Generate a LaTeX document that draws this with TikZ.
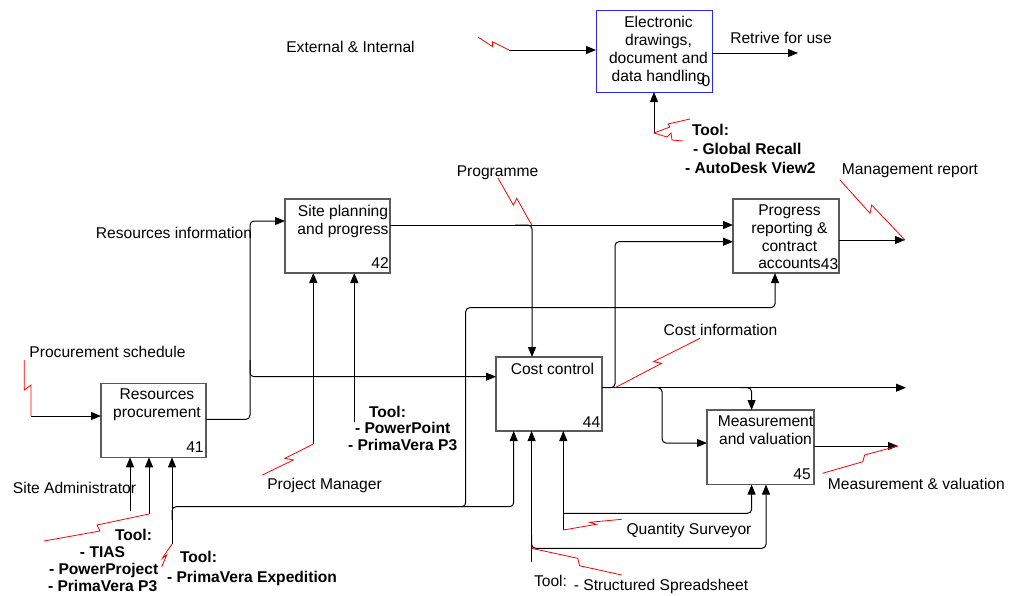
\documentclass[tikz,border=0pt]{standalone}
\usepackage{fontspec}
\setmainfont{Liberation Sans}
\usetikzlibrary{arrows.meta}
\definecolor{boxgray}{RGB}{90,90,90}
\definecolor{boxblue}{RGB}{40,40,255}
\definecolor{boltred}{RGB}{255,0,0}
\begin{document}
\begin{tikzpicture}[x=1pt,y=-1pt,
  every node/.style={inner sep=0pt, outer sep=0pt, font=\fontsize{15.6}{18}\selectfont},
  box/.style={draw=boxgray, line width=1.3pt},
  conn/.style={draw=black, line width=1pt, -{Triangle[length=10pt,width=8pt]}},
  bolt/.style={draw=boltred, line width=0.8pt},
  tool/.style={align=left, anchor=north west},
  boxtext/.style={align=center, anchor=north},
  lbl/.style={anchor=base},
  rc/.style={rounded corners=4pt}
]
\useasboundingbox (0,0) rectangle (1009,595);

% ---------- activity boxes ----------
\node[box, draw=boxblue, line width=1pt, minimum width=116pt, minimum height=82pt] (b0) at (654,51) {};
\node[boxtext, font=\fontsize{15.6}{18.2}\selectfont] (t0) at (658.5,15.7) {Electronic\\drawings,\\document and\\data handling};
\node[lbl] (n0) at (706,86.6) {0};

\node[box, minimum width=105pt, minimum height=74pt] (b42) at (337.5,236) {};
\node[boxtext] (t42) at (343,205) {Site planning\\and progress};
\node[lbl] (n42) at (380,268.6) {42};

\node[box, minimum width=105pt, minimum height=74pt] (b41) at (153.5,420.3) {};
\node[boxtext] (t41) at (157,389) {Resources\\procurement};
\node[lbl] (n41) at (195,452.6) {41};

\node[box, minimum width=106pt, minimum height=74pt] (b44) at (549,394) {};
\node[lbl] (t44) at (552.4,374.6) {Cost control};
\node[lbl] (n44) at (591.5,427.3) {44};

\node[box, minimum width=106pt, minimum height=74pt] (b43) at (786,236) {};
\node[boxtext, font=\fontsize{15.6}{17.7}\selectfont] (t43) at (789.5,205) {Progress\\reporting \&\\contract\\accounts};
\node[lbl] (n43) at (829.5,269.6) {43};

\node[box, minimum width=107pt, minimum height=74.5pt] (b45) at (760.5,447.3) {};
\node[boxtext] (t45) at (765.5,416) {Measurement\\and valuation};
\node[lbl] (n45) at (802,479.3) {45};

% ---------- labels ----------
\node[lbl] (lExt) at (350.5,52) {External \& Internal};
\node[lbl] (lRet) at (781,43.6) {Retrive for use};
\node[lbl] (lProg) at (497.5,176.6) {Programme};
\node[lbl] (lMgmt) at (910,174.6) {Management report};
\node[lbl] (lRes) at (174,238.6) {Resources information};
\node[lbl] (lPS) at (107.5,357.6) {Procurement schedule};
\node[lbl] (lCI) at (720.5,335.6) {Cost information};
\node[lbl] (lSA) at (74.5,493.6) {Site Administrator};
\node[lbl] (lPM) at (324.5,489.6) {Project Manager};
\node[lbl] (lQS) at (689,534.6) {Quantity Surveyor};
\node[lbl] (lMV) at (916.4,489.6) {Measurement \& valuation};
\node[lbl] (lTool) at (550.5,586) {Tool:};
\node[lbl] (lSS) at (661,590.6) {- Structured Spreadsheet};

\node[tool, font=\fontsize{15.6}{19}\selectfont\bfseries] (tool0) at (685,124)
  {\hspace*{7pt}Tool:\\\hspace*{8pt}- Global Recall\\- AutoDesk View2};
\node[tool, font=\fontsize{15.6}{17}\selectfont\bfseries] (tool41) at (48,529)
  {\hspace*{67pt}Tool:\\\hspace*{32pt}- TIAS\\\hspace*{1pt}- PowerProject\\- PrimaVera P3};
\node[tool, font=\fontsize{15.6}{16.5}\selectfont\bfseries] (tool42) at (348,406)
  {\hspace*{21pt}Tool:\\\hspace*{7pt}- PowerPoint\\- PrimaVera P3};
\node[tool, font=\fontsize{15.6}{20}\selectfont\bfseries] (toolX) at (167,551)
  {\hspace*{13pt}Tool:\\- PrimaVera Expedition};

% ---------- free ends and junctions ----------
\coordinate (ei) at (509,50);
\coordinate (rf) at (798,53);
\coordinate (gr) at (654,133);
\coordinate (ps) at (31,416);
\coordinate (sa) at (130,511);
\coordinate (tt) at (149,514);
\coordinate (e172) at (172,544);
\coordinate (e172b) at (172,520);
\coordinate (e513) at (513.7,506.7);
\coordinate (e440) at (440,506.7);
\coordinate (e465) at (465.7,307.7);
\coordinate (r250) at (250,221);
\coordinate (c250) at (250,360);
\coordinate (pm) at (313.3,444);
\coordinate (pp) at (354.3,421.7);
\coordinate (p515) at (515,225);
\coordinate (pg) at (531.7,225);
\coordinate (out44) at (906,387.7);
\coordinate (q605) at (605,387.7);
\coordinate (q615) at (615,241.7);
\coordinate (q615b) at (615,387.7);
\coordinate (q650) at (650,387.7);
\coordinate (q662) at (662,443);
\coordinate (q740) at (740,387.7);
\coordinate (out43) at (905,240);
\coordinate (out45) at (898,446);
\coordinate (qs) at (563.3,530);
\coordinate (qs2) at (563.3,513.3);
\coordinate (ss) at (531.6,561.7);
\coordinate (ss2) at (531.6,535);
\coordinate (ss3) at (766,548.3);
\coordinate (ssb) at (531.6,548.3);

% ---------- connectors ----------
\draw[conn] (ei) -- ([yshift=1pt]b0.west);
\draw[conn] ([yshift=-2pt]b0.east) -- (rf);
\draw[conn] (gr) -- (b0.south);

\draw[conn] (ps) -- ([yshift=4.3pt]b41.west);
\draw[conn] (sa) -- ([xshift=-23.5pt]b41.south);
\draw[conn] (tt) -- ([xshift=-4.5pt]b41.south);
\draw[conn] (e172) -- ([xshift=18.5pt]b41.south);
\draw[conn, rc] (e172b) |- (e513) -- ([xshift=-35.3pt]b44.south);
\draw[conn, rc] (e440) -| (e465) -| ([xshift=-11pt]b43.south);

\draw[conn, rc] ([yshift=1pt]b41.east) -| (r250) -- ([yshift=15pt]b42.west);
\draw[conn, rc] (c250) |- ([yshift=17.3pt]b44.west);

\draw[conn] (pm) -- ([xshift=-24.2pt]b42.south);
\draw[conn] (pp) -- ([xshift=16.8pt]b42.south);
\draw[conn] ([yshift=11pt]b42.east) -- ([yshift=11pt]b43.west);
\draw[conn, rc] (p515) -| ([xshift=-17pt]b44.north);

\draw[conn] ([yshift=6.3pt]b44.east) -- (out44);
\draw[conn, rc] (q605) -| (q615) -- ([yshift=-5.7pt]b43.west);
\draw[conn, rc] (q650) -| (q662) -- ([yshift=4.3pt]b45.west);
\draw[conn, rc] (q740) -| ([xshift=-8.9pt]b45.north);

\draw[conn] ([yshift=-4pt]b43.east) -- (out43);
\draw[conn] ([yshift=1.3pt]b45.east) -- (out45);

\draw[conn] (qs) -- ([xshift=14.3pt]b44.south);
\draw[conn, rc] (qs2) -| ([xshift=-8.9pt]b45.south);
\draw[conn] (ss) -- ([xshift=-17.4pt]b44.south);
\draw[conn, rc] (ss2) |- (ss3) -- ([xshift=5.5pt]b45.south);

% ---------- red label squiggles ----------
\draw[bolt] (ei) -- (492.3,41.7) -- (492.7,46.7) -- (478,37);
\draw[bolt] (gr) -- (670,127) -- (668,124) -- (690,119);
\draw[bolt] (gr) -- (667,137) -- (671,133) -- (672,140) -- (683,141);
\draw[bolt] (ps) -- (31,385) -- (24.3,390) -- (24.3,360);
\draw[bolt] (tt) -- (97,525) -- (100,531) -- (44,541);
\draw[bolt] (e172) -- (162.3,558.3) -- (166.7,555) -- (161.7,566.7);
\draw[bolt] (pm) -- (285,458.3) -- (293.3,460) -- (262.3,475);
\draw[bolt] (pg) -- (516.7,198.3) -- (513.3,205) -- (498,178);
\draw[bolt] (q615b) -- (661.7,363.3) -- (653.3,361.7) -- (700,338.3);
\draw[bolt] (out43) -- (871.7,205) -- (870,213.3) -- (840,180);
\draw[bolt] (out45) -- (864.6,455) -- (862.9,461.7) -- (822.4,473.3);
\draw[bolt] (qs) -- (596.4,524.3) -- (589.6,522.3) -- (621.7,519.3);
\draw[bolt] (ssb) -- (577.8,558.3) -- (579.5,565.7) -- (621.7,575);
\end{tikzpicture}
\end{document}
